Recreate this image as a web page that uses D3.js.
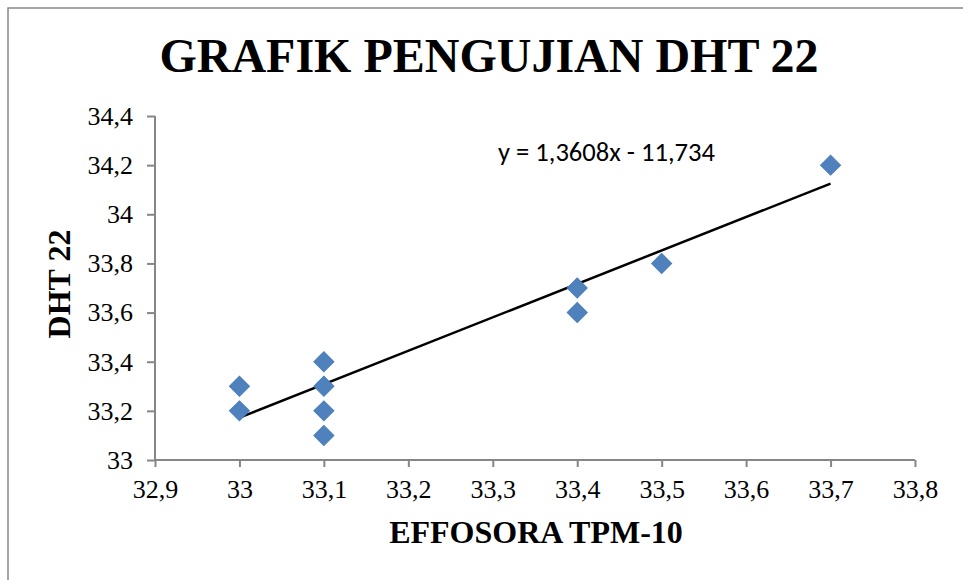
<!DOCTYPE html>
<html><head><meta charset="utf-8">
<script src="https://cdn.jsdelivr.net/npm/d3@7"></script>
<style>html,body{margin:0;padding:0;background:#fff;}svg{display:block;}</style>
</head><body>
<script>
const xValues = [33, 33, 33.1, 33.1, 33.1, 33.1, 33.4, 33.4, 33.5, 33.7];
const yValues = [33.3, 33.2, 33.4, 33.3, 33.2, 33.1, 33.7, 33.6, 33.8, 34.2];
const xTicks = [32.9, 33, 33.1, 33.2, 33.3, 33.4, 33.5, 33.6, 33.7, 33.8];
const yTicks = [33, 33.2, 33.4, 33.6, 33.8, 34, 34.2, 34.4];
const slope = 1.3608, intercept = -11.734;
const trendX = [33, 33.7];
const titleText = "GRAFIK PENGUJIAN DHT 22";
const xTitle = "EFFOSORA TPM-10";
const yTitle = "DHT 22";
const eqText = "y = 1,3608x - 11,734";

const W = 963, H = 580;
const svg = d3.select("body").append("svg").attr("width", W).attr("height", H);

// outer frame (left & top visible)
svg.append("path").attr("d", `M8,${H} V8 H${W}`).attr("fill","none").attr("stroke","#898989").attr("stroke-width",1.5);

const x = d3.scaleLinear().domain([32.9, 33.8]).range([155, 915]);
const y = d3.scaleLinear().domain([33, 34.4]).range([460, 116]);
const fmt = v => String(+v.toFixed(1)).replace(".", ",");

const axisColor = "#868686";
const serif = "'Liberation Serif','Times New Roman',serif";

const gx = svg.append("g").attr("transform", "translate(0,460)")
  .call(d3.axisBottom(x).tickValues(xTicks).tickFormat(fmt).tickSize(7).tickPadding(13));
const gy = svg.append("g").attr("transform", "translate(155,0)")
  .call(d3.axisLeft(y).tickValues(yTicks).tickFormat(fmt).tickSize(8).tickPadding(14));
[gx, gy].forEach(g => {
  g.select(".domain").attr("stroke", axisColor).attr("stroke-width", 2);
  g.selectAll(".tick line").attr("stroke", axisColor).attr("stroke-width", 2);
  g.selectAll(".tick text").attr("fill", "#000").style("font-family", serif).style("font-size", "26px");
});
gx.select(".domain").attr("d", "M155,0H915");
gy.select(".domain").attr("d", "M0,460V116");

// trendline
svg.append("line")
  .attr("x1", x(trendX[0])).attr("y1", y(slope*trendX[0]+intercept))
  .attr("x2", x(trendX[1])).attr("y2", y(slope*trendX[1]+intercept))
  .attr("stroke", "#000").attr("stroke-width", 2.5);

// points
const sym = d3.symbol().type(d3.symbolSquare).size(200);
svg.append("g").selectAll("path").data(xValues.map((v,i)=>[v, yValues[i]])).join("path")
  .attr("d", sym)
  .attr("transform", d => `translate(${x(d[0])},${y(d[1])}) rotate(45)`)
  .attr("fill", "#4f81bd").attr("stroke", "#4a7ebb").attr("stroke-width", 1);

// equation
const eq = svg.append("text").attr("x", 498).attr("y", 161)
  .style("font-family", "Carlito,'Open Sans','Liberation Sans',sans-serif").style("font-size","20px")
  .text(eqText);
const eqLen = eq.node().getComputedTextLength();
eq.style("font-size", (20 * 217 / eqLen).toFixed(2) + "px");

// title
svg.append("text").attr("x", 489).attr("y", 72).attr("text-anchor","middle")
  .style("font-family", serif).style("font-weight","bold").style("font-size","48px")
  .text(titleText);

// x axis title
svg.append("text").attr("x", 536).attr("y", 543).attr("text-anchor","middle")
  .style("font-family", serif).style("font-weight","bold").style("font-size","32px")
  .text(xTitle);

// y axis title
svg.append("text").attr("transform", "translate(70,284) rotate(-90)").attr("text-anchor","middle")
  .style("font-family", serif).style("font-weight","bold").style("font-size","32px")
  .text(yTitle);
</script>
</body></html>
